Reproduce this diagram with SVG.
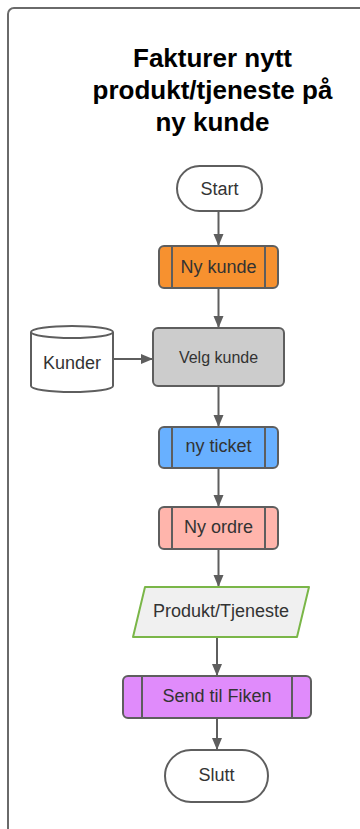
<svg xmlns="http://www.w3.org/2000/svg" width="360" height="829" viewBox="0 0 360 829">
  <style>
    .frame { fill: #ffffff; stroke: #6a6a6a; stroke-width: 2; }
    .title { font-family: "Liberation Sans", Arial, sans-serif; font-size: 26px; font-weight: bold; fill: #000000; text-anchor: middle; }
    .shape { stroke: #5e5e5e; stroke-width: 2; }
    .label { font-family: "Liberation Sans", Arial, sans-serif; font-size: 18px; fill: #333333; text-anchor: middle; dominant-baseline: central; }
    .edge { fill: none; stroke: #5e5e5e; stroke-width: 2; marker-end: url(#arrow); }
  </style>
  <defs>
    <marker id="arrow" markerUnits="userSpaceOnUse" markerWidth="12" markerHeight="12" viewBox="0 0 12 12" refX="12" refY="6" orient="auto">
      <path d="M0,1 L12,6 L0,11 Z" fill="#5e5e5e"/>
    </marker>
  </defs>

  <rect x="0" y="0" width="360" height="829" fill="#ffffff"/>
  <rect class="frame" x="8" y="8" width="420" height="900" rx="6"/>

  <g id="title">
    <text class="title" x="212.5" y="67">Fakturer nytt</text>
    <text class="title" x="212.5" y="99">produkt/tjeneste på</text>
    <text class="title" x="212.5" y="131">ny kunde</text>
  </g>

  <g id="connectors">
    <line class="edge" x1="218.5" y1="211" x2="218.5" y2="246"/>
    <line class="edge" x1="218.5" y1="288" x2="218.5" y2="328"/>
    <line class="edge" x1="113" y1="359" x2="153" y2="359"/>
    <line class="edge" x1="218.5" y1="386" x2="218.5" y2="427"/>
    <line class="edge" x1="218.5" y1="468" x2="218.5" y2="507"/>
    <line class="edge" x1="218.5" y1="549" x2="218.5" y2="587"/>
    <line class="edge" x1="217" y1="637" x2="217" y2="676"/>
    <line class="edge" x1="217" y1="718" x2="217" y2="750"/>
  </g>

  <g id="start">
    <rect class="shape" x="177" y="166" width="85" height="45" rx="22.5" fill="#ffffff"/>
    <text class="label" x="219.5" y="188.5">Start</text>
  </g>

  <g id="ny-kunde">
    <rect class="shape" x="159" y="246" width="119" height="42" rx="5" fill="#f7912f"/>
    <line class="shape" x1="172" y1="246" x2="172" y2="288"/>
    <line class="shape" x1="265" y1="246" x2="265" y2="288"/>
    <text class="label" x="218.5" y="267">Ny kunde</text>
  </g>

  <g id="kunder">
    <path class="shape" d="M31,332 L31,386 A41,6 0 0 0 113,386 L113,332 A41,6 0 0 0 31,332 Z" fill="#ffffff"/>
    <path class="shape" d="M31,332 A41,6 0 0 0 113,332" fill="none"/>
    <text class="label" x="72" y="363">Kunder</text>
  </g>

  <g id="velg-kunde">
    <rect class="shape" x="153" y="328" width="131" height="58" rx="5" fill="#cccccc"/>
    <text class="label" x="218.5" y="357" style="font-size:16px">Velg kunde</text>
  </g>

  <g id="ny-ticket">
    <rect class="shape" x="159" y="427" width="119" height="41" rx="5" fill="#68b0ff"/>
    <line class="shape" x1="172" y1="427" x2="172" y2="468"/>
    <line class="shape" x1="265" y1="427" x2="265" y2="468"/>
    <text class="label" x="218.5" y="446">ny ticket</text>
  </g>

  <g id="ny-ordre">
    <rect class="shape" x="159" y="507" width="119" height="42" rx="5" fill="#ffb5ac"/>
    <line class="shape" x1="172" y1="507" x2="172" y2="549"/>
    <line class="shape" x1="265" y1="507" x2="265" y2="549"/>
    <text class="label" x="218.5" y="527">Ny ordre</text>
  </g>

  <g id="produkt-tjeneste">
    <path d="M145,587 L309,587 L297,637 L133,637 Z" fill="#f0f0f0" stroke="#7ab648" stroke-width="2" stroke-linejoin="round"/>
    <text class="label" x="221" y="611">Produkt/Tjeneste</text>
  </g>

  <g id="send-til-fiken">
    <rect class="shape" x="123" y="676" width="188" height="42" rx="5" fill="#e08bfb"/>
    <line class="shape" x1="142" y1="676" x2="142" y2="718"/>
    <line class="shape" x1="292" y1="676" x2="292" y2="718"/>
    <text class="label" x="217" y="696">Send til Fiken</text>
  </g>

  <g id="slutt">
    <rect class="shape" x="165" y="750" width="103" height="52" rx="26" fill="#ffffff"/>
    <text class="label" x="216.5" y="775">Slutt</text>
  </g>
</svg>
